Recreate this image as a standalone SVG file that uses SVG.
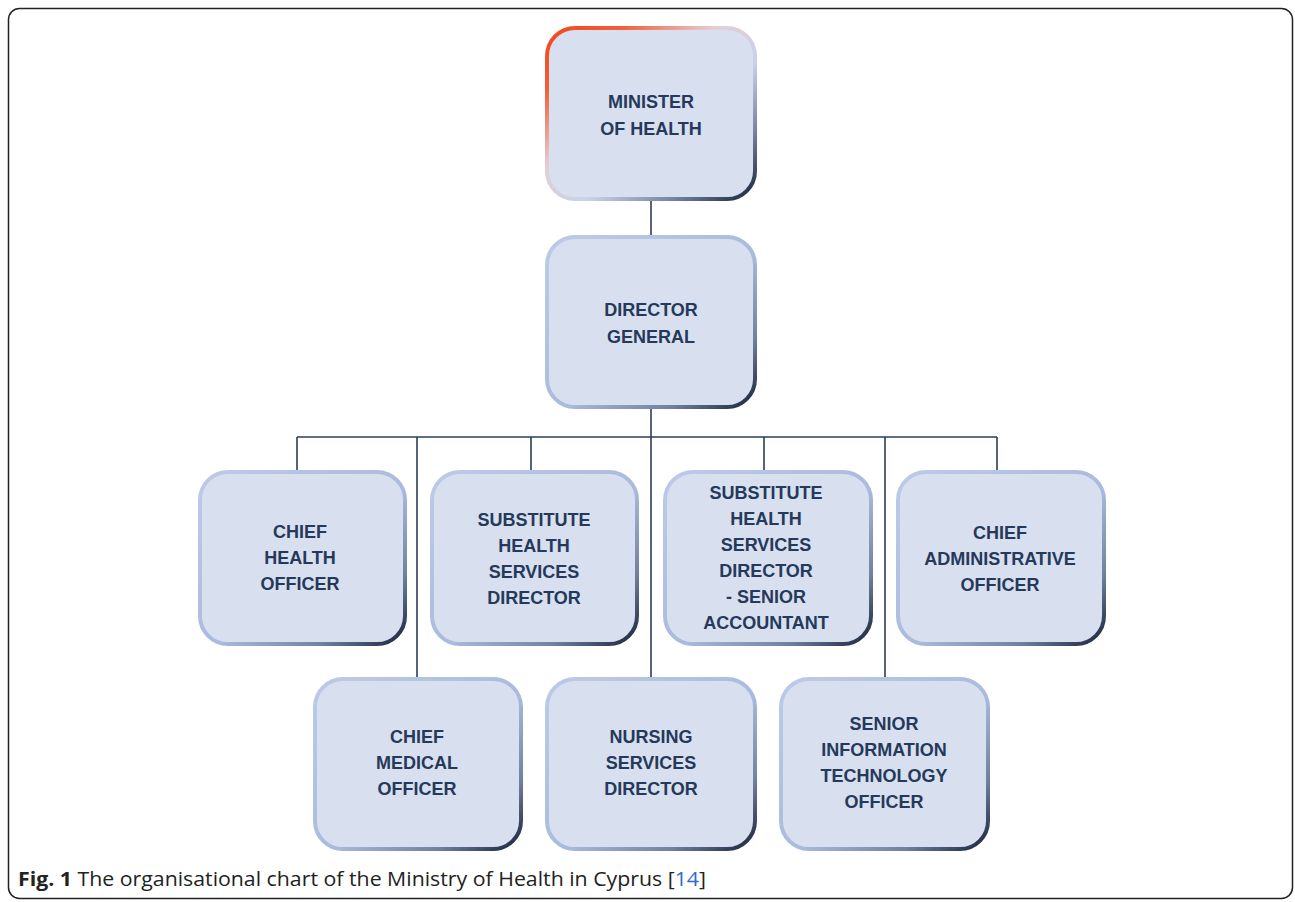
<svg xmlns="http://www.w3.org/2000/svg" width="1295" height="902" viewBox="0 0 1295 902">
  <defs>
    <linearGradient id="edge" x1="0" y1="0" x2="1" y2="1">
      <stop offset="0" stop-color="#bccbe7"/>
      <stop offset="0.55" stop-color="#a9bbdd"/>
      <stop offset="0.8" stop-color="#6f80a0"/>
      <stop offset="1" stop-color="#17233a"/>
    </linearGradient>
    <linearGradient id="edgeTop" x1="0" y1="0" x2="1" y2="1">
      <stop offset="0" stop-color="#f2461c"/>
      <stop offset="0.18" stop-color="#f0603a"/>
      <stop offset="0.4" stop-color="#e6cdd2"/>
      <stop offset="0.6" stop-color="#c8d3ea"/>
      <stop offset="0.8" stop-color="#7585a6"/>
      <stop offset="1" stop-color="#17233a"/>
    </linearGradient>
    <style>
      .box { fill: #d8e0f0; stroke: url(#edge); stroke-width: 4; }
      .top { fill: #d8e0f0; stroke: url(#edgeTop); stroke-width: 4; }
      .lbl { font-family: "Liberation Sans", Arial, sans-serif; font-weight: bold; font-size: 18px; fill: #25395a; text-anchor: middle; }
      .wire { fill: none; stroke: #2c3c58; stroke-width: 1.6; }
      .cap { font-family: "Open Sans", "Liberation Sans", sans-serif; font-size: 20px; fill: #222; }
    </style>
  </defs>

  <rect x="8.5" y="8.5" width="1284" height="890" rx="11" fill="#fff" stroke="#222" stroke-width="1.5"/>

  <g id="connectors">
    <line class="wire" x1="651" y1="200" x2="651" y2="236"/>
    <line class="wire" x1="651" y1="408" x2="651" y2="678"/>
    <line class="wire" x1="297" y1="437" x2="997" y2="437"/>
    <line class="wire" x1="297" y1="437" x2="297" y2="471"/>
    <line class="wire" x1="417" y1="437" x2="417" y2="678"/>
    <line class="wire" x1="531" y1="437" x2="531" y2="471"/>
    <line class="wire" x1="764" y1="437" x2="764" y2="471"/>
    <line class="wire" x1="885" y1="437" x2="885" y2="678"/>
    <line class="wire" x1="997" y1="437" x2="997" y2="471"/>
  </g>

  <g id="minister">
    <rect class="top" x="547" y="28" width="208" height="171" rx="28"/>
    <text class="lbl" x="651" y="108">MINISTER</text>
    <text class="lbl" x="651" y="135">OF HEALTH</text>
  </g>

  <g id="director-general">
    <rect class="box" x="547" y="237" width="208" height="170" rx="28"/>
    <text class="lbl" x="651" y="316">DIRECTOR</text>
    <text class="lbl" x="651" y="343">GENERAL</text>
  </g>

  <g id="chief-health-officer">
    <rect class="box" x="200" y="472" width="205" height="172" rx="28"/>
    <text class="lbl" x="300" y="538">CHIEF</text>
    <text class="lbl" x="300" y="564">HEALTH</text>
    <text class="lbl" x="300" y="590">OFFICER</text>
  </g>

  <g id="substitute-health-services-director">
    <rect class="box" x="432" y="472" width="205" height="172" rx="28"/>
    <text class="lbl" x="534" y="526">SUBSTITUTE</text>
    <text class="lbl" x="534" y="552">HEALTH</text>
    <text class="lbl" x="534" y="578">SERVICES</text>
    <text class="lbl" x="534" y="604">DIRECTOR</text>
  </g>

  <g id="substitute-director-senior-accountant">
    <rect class="box" x="665" y="472" width="206" height="172" rx="28"/>
    <text class="lbl" x="766" y="499">SUBSTITUTE</text>
    <text class="lbl" x="766" y="525">HEALTH</text>
    <text class="lbl" x="766" y="551">SERVICES</text>
    <text class="lbl" x="766" y="577">DIRECTOR</text>
    <text class="lbl" x="766" y="603">- SENIOR</text>
    <text class="lbl" x="766" y="629">ACCOUNTANT</text>
  </g>

  <g id="chief-administrative-officer">
    <rect class="box" x="898" y="472" width="206" height="172" rx="28"/>
    <text class="lbl" x="1000" y="539">CHIEF</text>
    <text class="lbl" x="1000" y="565">ADMINISTRATIVE</text>
    <text class="lbl" x="1000" y="591">OFFICER</text>
  </g>

  <g id="chief-medical-officer">
    <rect class="box" x="315" y="679" width="206" height="170" rx="28"/>
    <text class="lbl" x="417" y="743">CHIEF</text>
    <text class="lbl" x="417" y="769">MEDICAL</text>
    <text class="lbl" x="417" y="795">OFFICER</text>
  </g>

  <g id="nursing-services-director">
    <rect class="box" x="547" y="679" width="208" height="170" rx="28"/>
    <text class="lbl" x="651" y="743">NURSING</text>
    <text class="lbl" x="651" y="769">SERVICES</text>
    <text class="lbl" x="651" y="795">DIRECTOR</text>
  </g>

  <g id="senior-it-officer">
    <rect class="box" x="781" y="679" width="207" height="170" rx="28"/>
    <text class="lbl" x="884" y="730">SENIOR</text>
    <text class="lbl" x="884" y="756">INFORMATION</text>
    <text class="lbl" x="884" y="782">TECHNOLOGY</text>
    <text class="lbl" x="884" y="808">OFFICER</text>
  </g>

  <text class="cap" x="18" y="886" textLength="688" lengthAdjust="spacingAndGlyphs"><tspan font-weight="bold">Fig. 1</tspan> The organisational chart of the Ministry of Health in Cyprus [<tspan fill="#2e6bd1">14</tspan>]</text>
</svg>
